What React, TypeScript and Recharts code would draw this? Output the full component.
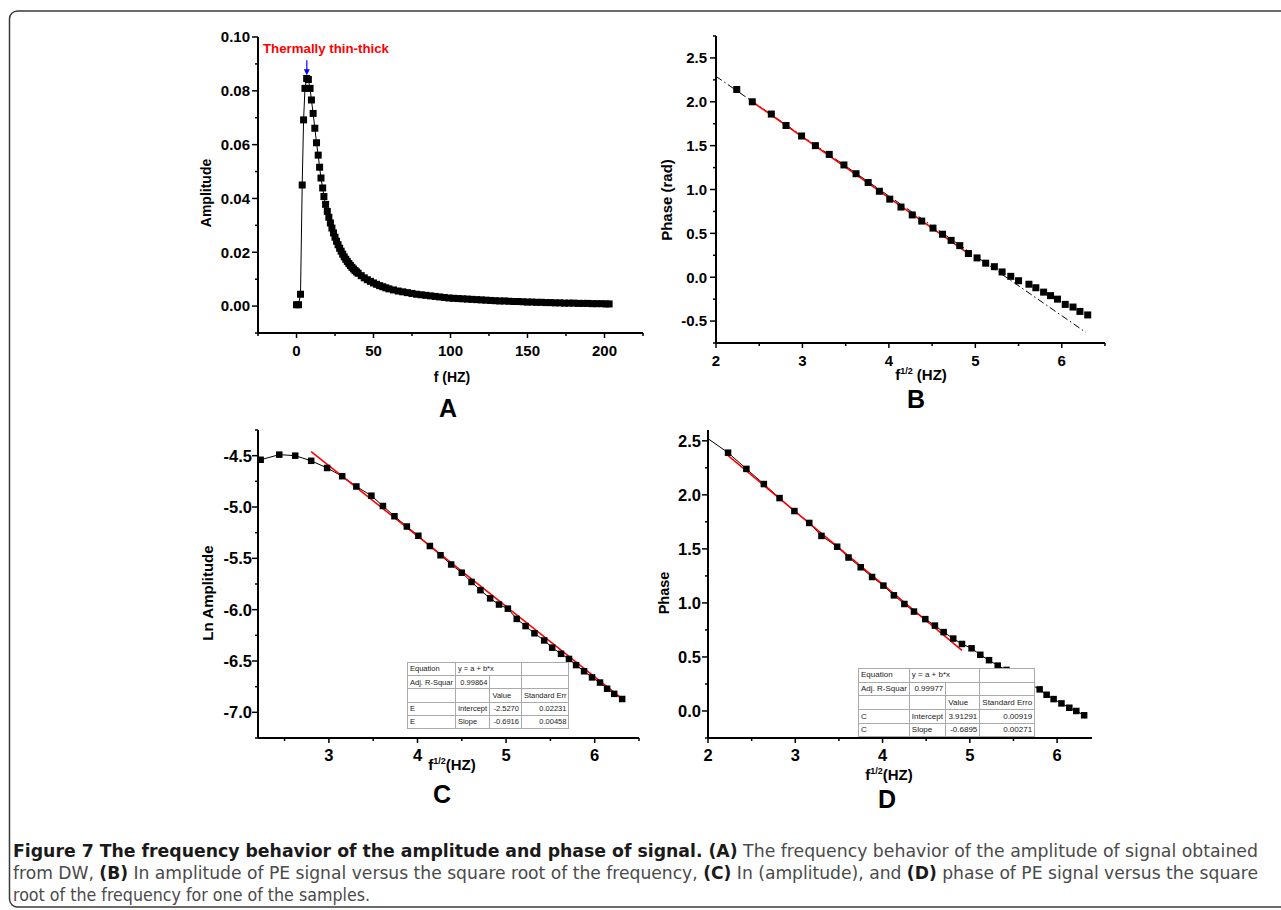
import React from 'react';
import { LineChart, Line, XAxis, YAxis, ReferenceLine, ReferenceDot } from 'recharts';

// Panel A: amplitude vs frequency
const ampFreq = [
  0, 1.3, 2.6, 3.7, 4.6, 5.5, 6.6, 7.7, 8.8, 9.7, 10.8, 11.9, 13, 14.1, 15, 15.9, 17, 17.8, 18.9,
  20, 21, 22, 23, 24, 25, 26, 27, 28, 29, 30, 31, 32, 33, 34, 35, 36, 37, 38, 39, 40,
  42, 44, 46, 48, 50, 52, 54, 56, 58, 60,
  63, 66, 69, 72, 75, 78, 81, 84, 87, 90, 93, 96, 99, 102, 105, 108, 111, 114, 117, 120,
  123, 126, 129, 132, 135, 138, 141, 144, 147, 150, 153, 156, 159, 162, 165, 168, 171, 174,
  177, 180, 183, 186, 189, 192, 195, 198, 201, 203,
];
const ampValue = [
  0.0005, 0.0005, 0.0044, 0.045, 0.0692, 0.0809, 0.0846, 0.0842, 0.0809, 0.0766, 0.0716, 0.0661,
  0.0607, 0.0561, 0.0516, 0.0476, 0.0439, 0.0407, 0.0378,
  0.0352, 0.033, 0.0309, 0.029, 0.0272, 0.0256, 0.0241, 0.0228, 0.0215, 0.0204, 0.0193, 0.0183,
  0.0174, 0.0166, 0.0158, 0.0151, 0.0144, 0.0138, 0.0132, 0.0127, 0.0122,
  0.0113, 0.0105, 0.0098, 0.0092, 0.0086, 0.0081, 0.0076, 0.0072, 0.0068, 0.0064,
  0.006, 0.0056, 0.0053, 0.005, 0.0047, 0.0044, 0.0042, 0.004, 0.0038, 0.0036, 0.0034, 0.0032,
  0.003, 0.0029, 0.0028, 0.0027, 0.0026, 0.0025, 0.0024, 0.0023,
  0.0022, 0.0021, 0.002, 0.0019, 0.0019, 0.0018, 0.0017, 0.0017, 0.0016, 0.0015, 0.0015, 0.0014,
  0.0014, 0.0013, 0.0013, 0.0012, 0.0012, 0.0011, 0.0011, 0.0011, 0.001, 0.001, 0.001, 0.0009,
  0.0009, 0.0009, 0.0008, 0.0008,
];

// Panel B: phase vs sqrt(f)
const phaseBX = [2.24, 2.42, 2.64, 2.81, 2.99, 3.15, 3.31, 3.48, 3.62, 3.76, 3.89, 4.01, 4.14, 4.27, 4.38, 4.51, 4.62, 4.72, 4.82, 4.92, 5.02, 5.12, 5.22, 5.31, 5.41, 5.5, 5.62, 5.7, 5.79, 5.87, 5.95, 6.04, 6.13, 6.21, 6.3];
const phaseBY = [2.14, 2.0, 1.86, 1.73, 1.61, 1.5, 1.4, 1.28, 1.18, 1.08, 0.98, 0.89, 0.8, 0.71, 0.64, 0.56, 0.49, 0.42, 0.36, 0.27, 0.22, 0.16, 0.12, 0.06, 0.01, -0.04, -0.08, -0.12, -0.17, -0.21, -0.25, -0.31, -0.34, -0.39, -0.43];
const fitBX = [2.42, 4.92];
const fitBY = [2.0, 0.27];
const theoryBX = [2.0, 6.28];
const theoryBY = [2.29, -0.63];

// Panel C: ln amplitude vs sqrt(f)
const lnAmpX = [2.23, 2.44, 2.62, 2.8, 2.98, 3.15, 3.31, 3.48, 3.61, 3.74, 3.88, 4.01, 4.14, 4.26, 4.38, 4.5, 4.61, 4.71, 4.82, 4.92, 5.02, 5.12, 5.22, 5.32, 5.43, 5.52, 5.62, 5.71, 5.79, 5.88, 5.97, 6.06, 6.14, 6.22, 6.31];
const lnAmpY = [-4.54, -4.49, -4.5, -4.55, -4.62, -4.7, -4.8, -4.89, -4.99, -5.09, -5.19, -5.28, -5.38, -5.47, -5.56, -5.64, -5.73, -5.81, -5.89, -5.95, -5.99, -6.09, -6.16, -6.23, -6.3, -6.37, -6.43, -6.48, -6.54, -6.6, -6.66, -6.71, -6.77, -6.82, -6.87];
const fitCX = [2.8, 6.33];
const fitCY = [-4.46, -6.88];

// Panel D: phase vs sqrt(f)
const phaseDX = [2.0, 2.23, 2.44, 2.64, 2.82, 2.99, 3.16, 3.3, 3.48, 3.61, 3.75, 3.88, 4.01, 4.13, 4.25, 4.36, 4.49, 4.6, 4.7, 4.81, 4.91, 5.02, 5.12, 5.22, 5.32, 5.42, 5.51, 5.61, 5.71, 5.8, 5.88, 5.96, 6.05, 6.14, 6.22, 6.31];
const phaseDY = [2.52, 2.39, 2.24, 2.1, 1.97, 1.85, 1.74, 1.62, 1.52, 1.42, 1.33, 1.24, 1.16, 1.07, 0.99, 0.92, 0.85, 0.79, 0.73, 0.67, 0.62, 0.58, 0.52, 0.47, 0.42, 0.38, 0.33, 0.28, 0.24, 0.2, 0.15, 0.11, 0.07, 0.03, 0.0, -0.04];
const fitDX = [2.22, 4.91];
const fitDY = [2.37, 0.56];

// ticks (all = major + minor)
const ticksAX = [-25, 0, 25, 50, 75, 100, 125, 150, 175, 200, 225];
const majorAX = [0, 50, 100, 150, 200];
const ticksAY = [-0.01, 0, 0.01, 0.02, 0.03, 0.04, 0.05, 0.06, 0.07, 0.08, 0.09, 0.1];
const majorAY = [0, 0.02, 0.04, 0.06, 0.08, 0.1];
const ticksBX = [2, 2.5, 3, 3.5, 4, 4.5, 5, 5.5, 6, 6.5];
const majorBX = [2, 3, 4, 5, 6];
const ticksBY = [-0.75, -0.5, -0.25, 0, 0.25, 0.5, 0.75, 1, 1.25, 1.5, 1.75, 2, 2.25, 2.5, 2.75];
const majorBY = [-0.5, 0, 0.5, 1, 1.5, 2, 2.5];
const ticksCX = [2.5, 3, 3.5, 4, 4.5, 5, 5.5, 6, 6.5];
const majorCX = [3, 4, 5, 6];
const ticksCY = [-7.25, -7, -6.75, -6.5, -6.25, -6, -5.75, -5.5, -5.25, -5, -4.75, -4.5, -4.25];
const majorCY = [-7, -6.5, -6, -5.5, -5, -4.5];
const ticksDX = [2, 2.5, 3, 3.5, 4, 4.5, 5, 5.5, 6];
const majorDX = [2, 3, 4, 5, 6];
const ticksDY = [-0.25, 0, 0.25, 0.5, 0.75, 1, 1.25, 1.5, 1.75, 2, 2.25, 2.5];
const majorDY = [0, 0.5, 1, 1.5, 2, 2.5];

// fit tables
const tableC = [
  ['Equation', 'y = a + b*x', null, ''],
  ['Adj. R-Squar', '0.99864', '', ''],
  ['', '', 'Value', 'Standard Err'],
  ['E', 'Intercept', '-2.5270', '0.02231'],
  ['E', 'Slope', '-0.6916', '0.00458'],
];
const tableD = [
  ['Equation', 'y = a + b*x', null, ''],
  ['Adj. R-Squar', '0.99977', '', ''],
  ['', '', 'Value', 'Standard Erro'],
  ['C', 'Intercept', '3.91291', '0.00919'],
  ['C', 'Slope', '-0.6895', '0.00271'],
];

const FONT = "Arial, 'Liberation Sans', Helvetica, sans-serif";
const NARROW = "'Liberation Sans Narrow', 'Arial Narrow', 'DejaVu Sans Condensed', 'Open Sans', sans-serif";
const BOX = { stroke: '#000', strokeWidth: 2 };

const toRows = (xs: number[], ys: number[]) => xs.map((x, i) => ({ x, y: ys[i] }));
const isMajor = (list: number[], v: number) => list.some((m) => Math.abs(m - v) < 1e-6);

const makeXTick = (majors: number[], fmt: (v: number) => string, size: number) => (props: any) => {
  const { x, y, payload } = props;
  const major = isMajor(majors, payload.value);
  return (
    <g>
      <line x1={x} x2={x} y1={y} y2={y + (major ? 5 : 3)} stroke="#000" strokeWidth={1.5} />
      {major && (
        <text x={x} y={y + 23} textAnchor="middle" fontFamily={FONT} fontWeight="bold" fontSize={size} fill="#000">
          {fmt(payload.value)}
        </text>
      )}
    </g>
  );
};

const makeYTick = (majors: number[], fmt: (v: number) => string, size: number, gap: number) => (props: any) => {
  const { x, y, payload } = props;
  const major = isMajor(majors, payload.value);
  return (
    <g>
      <line x1={x} x2={x - (major ? 6 : 3)} y1={y} y2={y} stroke="#000" strokeWidth={1.5} />
      {major && (
        <text x={x - gap} y={y} dy={size * 0.36} textAnchor="end" fontFamily={FONT} fontWeight="bold" fontSize={size} fill="#000">
          {fmt(payload.value)}
        </text>
      )}
    </g>
  );
};

const square = (size: number, minX = -Infinity) => (p: any) => {
  if (p.cx == null || p.cy == null || p.payload.x < minX) return <g key={p.index} />;
  return <rect key={p.index} x={p.cx - size / 2} y={p.cy - size / 2} width={size} height={size} fill="#000" />;
};

const arrowHead = (p: any) => (
  <path d={`M${p.cx - 3},${p.cy - 6} L${p.cx + 3},${p.cy - 6} L${p.cx},${p.cy} Z`} fill="#0000ff" />
);

// top and right axes only draw the closing sides of the plot box
const boxAxes = (xd: number[], yd: number[]) => [
  <XAxis key="xt" xAxisId="top" orientation="top" type="number" domain={xd} height={0} tick={false} tickLine={false} axisLine={BOX} allowDataOverflow />,
  <YAxis key="yr" yAxisId="right" orientation="right" type="number" domain={yd} width={0} tick={false} tickLine={false} axisLine={BOX} allowDataOverflow />,
];

const FitTable = ({ rows, left, top, cols, rowH, fontSize }: any) => (
  <table
    style={{
      position: 'absolute', left, top, borderCollapse: 'collapse', tableLayout: 'fixed',
      background: '#fff', border: '1.5px solid #333', fontFamily: FONT, fontSize, color: '#222',
    }}
  >
    <colgroup>
      {cols.map((w: number, i: number) => <col key={i} style={{ width: w }} />)}
    </colgroup>
    <tbody>
      {rows.map((r: any[], i: number) => (
        <tr key={i} style={{ height: rowH }}>
          {r.map((c, j) => {
            if (c === null) return null;
            const span = j === 1 && r[2] === null ? 2 : 1;
            const right = (j >= 2 && /^-?\d/.test(c)) || (j === 1 && /^\d/.test(c));
            return (
              <td
                key={j}
                colSpan={span}
                style={{
                  border: '1px solid #aaa', padding: '0 2px', height: rowH, lineHeight: `${rowH - 1}px`,
                  whiteSpace: 'nowrap', overflow: 'hidden', textAlign: right ? 'right' : 'left',
                }}
              >
                {c}
              </td>
            );
          })}
        </tr>
      ))}
    </tbody>
  </table>
);

const App = () => {
  const ampData = toRows(ampFreq, ampValue);
  const bData = toRows(phaseBX, phaseBY);
  const cData = toRows(lnAmpX, lnAmpY);
  const dData = toRows(phaseDX, phaseDY);
  const xCommon = { type: 'number' as const, dataKey: 'x', interval: 0 as const, tickLine: false, axisLine: BOX, tickSize: 0, tickMargin: 0, height: 50 };
  const yCommon = { type: 'number' as const, interval: 0 as const, tickLine: false, axisLine: BOX, tickSize: 0, tickMargin: 0 };

  return (
    <div style={{ position: 'absolute', left: 0, top: 0, width: 1281, height: 910, background: '#fff', overflow: 'hidden' }}>
      {/* A */}
      <div style={{ position: 'absolute', left: 190, top: 20 }}>
        <LineChart width={463} height={363} margin={{ top: 17, right: 10, bottom: 0, left: 0 }}>
          <XAxis {...xCommon} domain={[-25, 225]} ticks={ticksAX} tick={makeXTick(majorAX, (v) => String(v), 15)} />
          <YAxis {...yCommon} domain={[-0.01, 0.1]} ticks={ticksAY} width={68} tick={makeYTick(majorAY, (v) => v.toFixed(2), 15, 8)} />
          {boxAxes([-25, 225], [-0.01, 0.1])}
          <Line data={ampData} dataKey="y" stroke="#000" strokeWidth={1} dot={square(7)} isAnimationActive={false} />
          <ReferenceLine segment={[{ x: 6.7, y: 0.0914 }, { x: 6.7, y: 0.087 }]} stroke="#0000ff" strokeWidth={1.2} ifOverflow="visible" />
          <ReferenceDot x={6.7} y={0.0858} r={3} shape={arrowHead} ifOverflow="visible" />
        </LineChart>
      </div>

      {/* B */}
      <div style={{ position: 'absolute', left: 640, top: 20 }}>
        <LineChart width={475} height={373} margin={{ top: 16, right: 10, bottom: 0, left: 0 }}>
          <XAxis {...xCommon} domain={[2, 6.5]} ticks={ticksBX} tick={makeXTick(majorBX, (v) => String(v), 15)} />
          <YAxis {...yCommon} domain={[-0.75, 2.75]} ticks={ticksBY} width={76} tick={makeYTick(majorBY, (v) => v.toFixed(1), 15, 9)} />
          {boxAxes([2, 6.5], [-0.75, 2.75])}
          <Line data={toRows(theoryBX, theoryBY)} dataKey="y" stroke="#000" strokeWidth={1} strokeDasharray="7 3 1.5 3" dot={false} isAnimationActive={false} />
          <Line data={bData} dataKey="y" stroke="none" dot={square(7)} isAnimationActive={false} />
          <Line data={toRows(fitBX, fitBY)} dataKey="y" stroke="#ff0000" strokeWidth={1.6} dot={false} isAnimationActive={false} />
        </LineChart>
      </div>

      {/* C */}
      <div style={{ position: 'absolute', left: 190, top: 410 }}>
        <LineChart width={459} height={378} margin={{ top: 20, right: 10, bottom: 0, left: 0 }}>
          <XAxis {...xCommon} domain={[2.2, 6.5]} ticks={ticksCX} tick={makeXTick(majorCX, (v) => String(v), 16.5)} />
          <YAxis {...yCommon} domain={[-7.25, -4.25]} ticks={ticksCY} width={68} tick={makeYTick(majorCY, (v) => v.toFixed(1), 16.5, 6)} />
          {boxAxes([2.2, 6.5], [-7.25, -4.25])}
          <Line data={cData} dataKey="y" stroke="#000" strokeWidth={1} dot={square(6.5)} isAnimationActive={false} />
          <Line data={toRows(fitCX, fitCY)} dataKey="y" stroke="#ff0000" strokeWidth={1.6} dot={false} isAnimationActive={false} />
        </LineChart>
      </div>

      {/* D */}
      <div style={{ position: 'absolute', left: 640, top: 410 }}>
        <LineChart width={462} height={378} margin={{ top: 20, right: 10, bottom: 0, left: 0 }}>
          <XAxis {...xCommon} domain={[2, 6.4]} ticks={ticksDX} tick={makeXTick(majorDX, (v) => String(v), 16.5)} />
          <YAxis {...yCommon} domain={[-0.25, 2.6]} ticks={ticksDY} width={68} tick={makeYTick(majorDY, (v) => v.toFixed(1), 16.5, 7)} />
          {boxAxes([2, 6.4], [-0.25, 2.6])}
          <Line data={dData} dataKey="y" stroke="#000" strokeWidth={1} dot={square(6.5, 2.1)} isAnimationActive={false} />
          <Line data={toRows(fitDX, fitDY)} dataKey="y" stroke="#ff0000" strokeWidth={1.6} dot={false} isAnimationActive={false} />
        </LineChart>
      </div>

      <svg width={1281} height={910} style={{ position: 'absolute', left: 0, top: 0, pointerEvents: 'none' }}>
        <rect x={9.5} y={11} width={1300} height={896} rx={8} fill="none" stroke="#3a3a3a" strokeWidth={1.5} />

        <text x={263} y={53} fill="#ff0000" fontFamily={FONT} fontWeight="bold" fontSize={13} textLength={126} lengthAdjust="spacingAndGlyphs">Thermally thin-thick</text>

        <g fontFamily={FONT} fontWeight="bold" fill="#000">
          <text transform="translate(211,193) rotate(-90)" textAnchor="middle" fontSize={14}>Amplitude</text>
          <text transform="translate(672,200) rotate(-90)" textAnchor="middle" fontSize={15}>Phase (rad)</text>
          <text transform="translate(213,593) rotate(-90)" textAnchor="middle" fontSize={15}>Ln Amplitude</text>
          <text transform="translate(669,593) rotate(-90)" textAnchor="middle" fontSize={14.5}>Phase</text>

          <text x={452} y={382} textAnchor="middle" fontSize={14}>f (HZ)</text>
          <text x={921} y={380} textAnchor="middle" fontSize={15}>
            <tspan>f</tspan><tspan dy={-6} fontSize={9}>1/2</tspan><tspan dy={6}> (HZ)</tspan>
          </text>
          <text x={452} y={770} textAnchor="middle" fontSize={15}>
            <tspan>f</tspan><tspan dy={-6} fontSize={9}>1/2</tspan><tspan dy={6}>(HZ)</tspan>
          </text>
          <text x={889} y={780} textAnchor="middle" fontSize={15}>
            <tspan>f</tspan><tspan dy={-6} fontSize={9}>1/2</tspan><tspan dy={6}>(HZ)</tspan>
          </text>

          <text x={448} y={417} textAnchor="middle" fontSize={25}>A</text>
          <text x={916} y={408} textAnchor="middle" fontSize={25}>B</text>
          <text x={442} y={803} textAnchor="middle" fontSize={25}>C</text>
          <text x={887} y={808} textAnchor="middle" fontSize={25}>D</text>
        </g>

        <g fontFamily={NARROW} fontSize={17} fill="#4a4a4a">
          <text x={13} y={857} textLength={1245} lengthAdjust="spacingAndGlyphs">
            <tspan fontWeight="bold" fill="#1a1a1a">Figure 7 The frequency behavior of the amplitude and phase of signal. (A)</tspan>
            <tspan> The frequency behavior of the amplitude of signal obtained</tspan>
          </text>
          <text x={13} y={879} textLength={1245} lengthAdjust="spacingAndGlyphs">
            <tspan>from DW, </tspan><tspan fontWeight="bold" fill="#1a1a1a">(B)</tspan>
            <tspan> In amplitude of PE signal versus the square root of the frequency, </tspan>
            <tspan fontWeight="bold" fill="#1a1a1a">(C)</tspan><tspan> In (amplitude), and </tspan>
            <tspan fontWeight="bold" fill="#1a1a1a">(D)</tspan><tspan> phase of PE signal versus the square</tspan>
          </text>
          <text x={13} y={901} textLength={357} lengthAdjust="spacingAndGlyphs">root of the frequency for one of the samples.</text>
        </g>
      </svg>

      <FitTable rows={tableC} left={407} top={662} cols={[45, 34.5, 31.5, 47]} rowH={12.2} fontSize={7.5} />
      <FitTable rows={tableD} left={858} top={668} cols={[50, 36.5, 34, 51]} rowH={12.7} fontSize={8} />
    </div>
  );
};

export default App;
